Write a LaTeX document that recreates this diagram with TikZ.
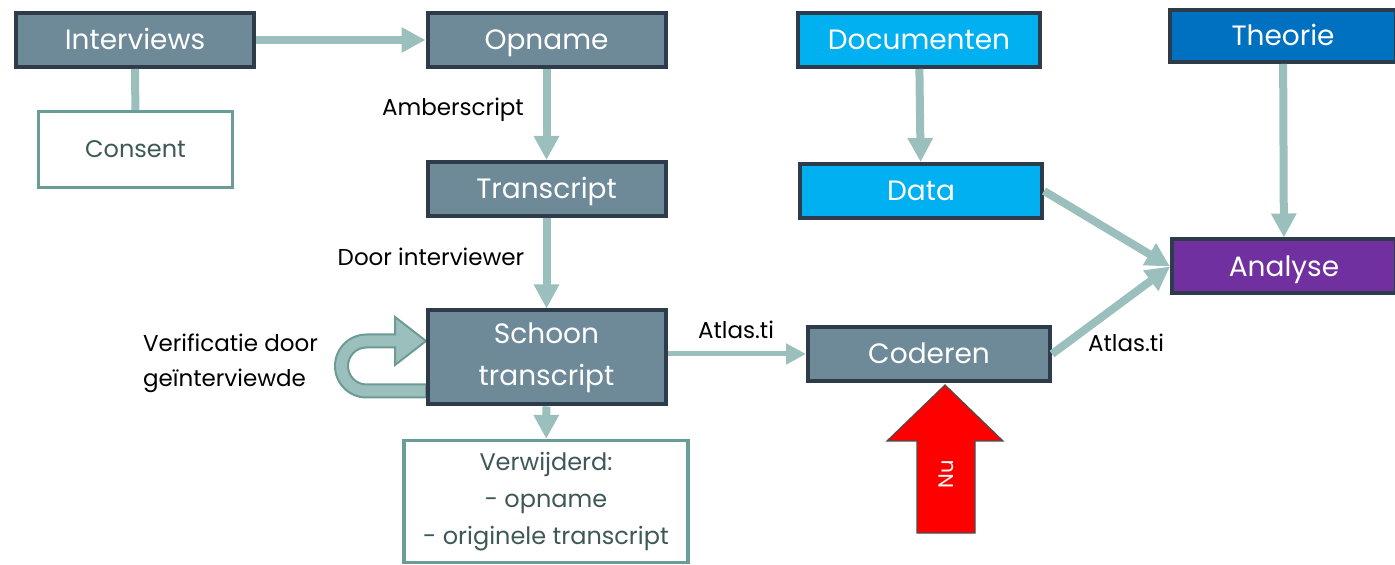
\documentclass[tikz,border=0pt]{standalone}
\usepackage{fontspec}
\setmainfont{Poppins}
\usetikzlibrary{arrows.meta}
\definecolor{slate}{HTML}{6E8A99}
\definecolor{boxline}{HTML}{2E3B4A}
\definecolor{flowteal}{HTML}{9ABFBC}
\definecolor{loopline}{HTML}{6E9A96}
\definecolor{notegreen}{HTML}{6A9C98}
\definecolor{notetext}{HTML}{3E5858}
\definecolor{docblue}{HTML}{00B0F0}
\definecolor{theoblue}{HTML}{0070C0}
\definecolor{anapurple}{HTML}{7030A0}
\definecolor{nured}{HTML}{FF0000}

\begin{document}
\begin{tikzpicture}[x=0.5pt,y=0.5pt,>={Triangle[width=12pt,length=12pt]},
    box/.style={draw=boxline,line width=2pt,fill=slate,text=white,minimum width=119pt,minimum height=27pt,font=\fontsize{14}{21}\selectfont,align=center},
    oneline/.style={text height=11pt,text depth=1.2pt},
    note/.style={draw=notegreen,line width=1.6pt,fill=white,text=notetext,font=\fontsize{12}{18.5}\selectfont,align=center},
    flow/.style={->,draw=flowteal,line width=4pt},
    lbl/.style={font=\fontsize{11.5}{17.5}\selectfont}]

    \useasboundingbox (0,0) rectangle (1395,-565);

		\node[box,oneline] (interviews) at (135,-40) {Interviews};
		\node[box,oneline] (opname) at (546.5,-40) {Opname};
		\node[box,oneline,fill=docblue,minimum width=121pt] (documenten) at (919,-40) {Documenten};
		\node[box,oneline,fill=theoblue,minimum width=113pt,minimum height=26pt] (theorie) at (1283,-36) {Theorie};
		\node[note,oneline,text height=9.5pt,minimum width=97pt,minimum height=38pt] (consent) at (135.5,-149.5) {Consent};
		\node[box,oneline] (transcript) at (546.5,-189) {Transcript};
		\node[box,oneline,fill=docblue,minimum width=121pt] (data) at (921,-191) {Data};
		\node[box,oneline,fill=anapurple,minimum width=112pt] (analyse) at (1284,-266.5) {Analyse};
		\node[box,minimum height=47pt] (schoon) at (546.5,-357.5) {Schoon\\transcript};
		\node[box,oneline,minimum width=121pt] (coderen) at (929,-354) {Coderen};
		\node[note,minimum width=142pt,minimum height=61pt] (verwijderd) at (546,-501.5) {Verwijderd:\\- opname\\- originele transcript};

		\node[lbl] (amber) at (453,-110) {Amberscript};
		\node[lbl] (door) at (431,-257) {Door interviewer};
		\node[lbl,align=left,anchor=west] (verif) at (136,-363) {Verificatie door\\geïnterviewde};
		\node[lbl] (atlasa) at (736,-330) {Atlas.ti};
		\node[lbl] (atlasb) at (1126,-343) {Atlas.ti};

		\draw[draw=flowteal,line width=4pt] (interviews) -- (consent);
		\draw[flow] (interviews) -- (opname);
		\draw[flow] (opname) -- (transcript);
		\draw[flow] (transcript) -- (schoon);
		\draw[flow] (schoon) -- (verwijderd);
		\draw[flow] (documenten) -- (data);
		\draw[flow] (data.east) -- (analyse.west);
		\draw[flow] (coderen.east) -- (analyse.west);
		\draw[flow] (theorie) -- (analyse);
		\draw[flow,line width=2.5pt,>={Triangle[width=10pt,length=10pt]}] (schoon.east |- coderen) -- (coderen);

		\draw[fill=flowteal,draw=loopline,line width=1pt]
		    (426,-397.5) -- (366.5,-397.5) arc (270:90:15.75pt) -- (395,-334.5) -- (395,-317)
		    -- (426,-341) -- (395,-365) -- (395,-347.5) -- (366.5,-347.5) arc (90:270:9.25pt)
		    -- (426,-384.5) -- cycle;
		\node[box,minimum height=47pt] at (schoon) {Schoon\\transcript};

		\draw[fill=nured,draw=black!70,line width=0.6pt]
		    (945,-385) -- (1003,-441) -- (975,-441) -- (975,-533) -- (917,-533) -- (917,-441) -- (887,-441) -- cycle;
		\node[rotate=90,text=white,font=\fontsize{10.5}{10.5}\selectfont] (nu) at (946,-474) {Nu};
	\end{tikzpicture}
\end{document}
